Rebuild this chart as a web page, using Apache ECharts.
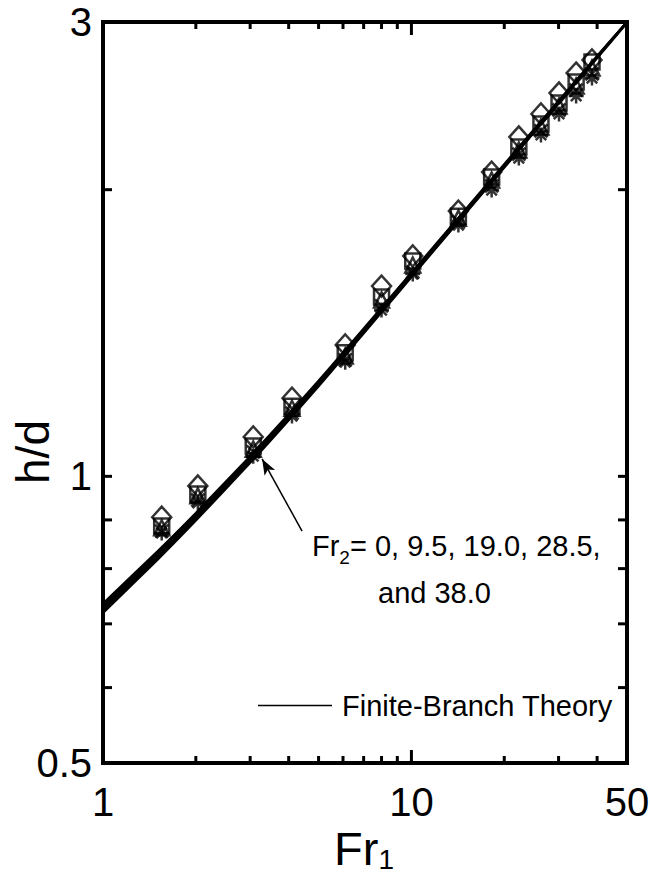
<!DOCTYPE html>
<html><head><meta charset="utf-8">
<script src="https://cdn.jsdelivr.net/npm/echarts@6/dist/echarts.min.js"></script>
<style>html,body{margin:0;padding:0;background:#fff}#c{width:650px;height:877px}</style>
</head><body><div id="c"></div>
<script>
const FONT = '"Liberation Sans", Arial, Helvetica, sans-serif';

// axes
const xRange = [1, 50];
const yRange = [0.5, 3];
const xTickLabels = [1, 10, 50];
const yTickLabels = [0.5, 1, 3];
const xMajorTicks = [10];
const xMinorTicks = [2, 3, 4, 5, 6, 7, 8, 9, 20, 30, 40];
const yTicks = [0.6, 0.7, 0.8, 0.9, 1, 2];

// finite-branch theory curves (Fr2 = 0, 9.5, 19.0, 28.5, 38.0)
const theoryFr1 = [1, 1.5, 2, 3, 4, 5, 6, 8, 10, 15, 20, 30, 40, 50];
const theoryA = [0.7190, 0.8172, 0.8988, 1.0333, 1.1456, 1.2438, 1.3327, 1.4870, 1.6194, 1.8902, 2.1098, 2.4636, 2.7494, 2.994];
const theoryB = [0.7230, 0.8214, 0.9029, 1.0374, 1.1497, 1.2478, 1.3367, 1.4911, 1.6234, 1.8944, 2.1141, 2.4673, 2.7529, 2.997];
const theoryC = [0.7270, 0.8255, 0.9070, 1.0416, 1.1537, 1.2519, 1.3407, 1.4952, 1.6275, 1.8987, 2.1183, 2.4710, 2.7563, 3.000];
const theoryD = [0.7310, 0.8296, 0.9111, 1.0458, 1.1577, 1.2560, 1.3447, 1.4993, 1.6316, 1.9030, 2.1225, 2.4747, 2.7597, 3.000];
const theoryE = [0.7350, 0.8338, 0.9152, 1.0499, 1.1618, 1.2600, 1.3487, 1.5034, 1.6356, 1.9072, 2.1268, 2.4784, 2.7632, 3.000];

// experimental points
const expFr1 = [1.55, 2.03, 3.07, 4.1, 6.1, 8.0, 10.1, 14.2, 18.2, 22.3, 26.3, 30.1, 34.2, 38.5];
const expDiamond  = [0.906, 0.977, 1.100, 1.208, 1.374, 1.584, 1.704, 1.899, 2.087, 2.272, 2.402, 2.527, 2.652, 2.737];
const expSquare   = [0.887, 0.958, 1.076, 1.185, 1.348, 1.543, 1.683, 1.876, 2.062, 2.217, 2.344, 2.467, 2.595, 2.724];
const expTriangle = [0.883, 0.954, 1.068, 1.179, 1.338, 1.532, 1.667, 1.867, 2.047, 2.201, 2.327, 2.449, 2.570, 2.684];
const expCross    = [0.876, 0.944, 1.061, 1.165, 1.325, 1.510, 1.639, 1.849, 2.018, 2.180, 2.305, 2.425, 2.545, 2.646];
const expStar     = [0.872, 0.938, 1.050, 1.157, 1.318, 1.495, 1.631, 1.836, 1.998, 2.159, 2.283, 2.402, 2.509, 2.620];

// annotation arrow (data coordinates)
const arrowFrom = [4.42, 0.876];
const arrowTo = [3.28, 1.043];

const zip = (xs, ys) => xs.map((x, i) => [x, ys[i]]);

function theorySeries(ys) {
  return {
    name: 'Finite-Branch Theory', type: 'line', data: zip(theoryFr1, ys),
    symbol: 'none', smooth: 0.2, z: 4,
    lineStyle: { color: '#000', width: 2.4 }, itemStyle: { color: '#000' }
  };
}
function pointSeries(name, ys, symbol, size) {
  return {
    name, type: 'scatter', data: zip(expFr1, ys), symbol, symbolSize: size, z: 3,
    itemStyle: { color: 'rgba(255,255,255,0)', borderColor: '#000', borderWidth: 2.5 }
  };
}
const xTickDraw = len => (params, api) => {
  const v = api.value(0);
  const b = api.coord([v, yRange[0]]), t = api.coord([v, yRange[1]]);
  return { type: 'group', children: [
    { type: 'line', shape: { x1: b[0], y1: b[1], x2: b[0], y2: b[1] - len }, style: { stroke: '#000', lineWidth: 3 } },
    { type: 'line', shape: { x1: t[0], y1: t[1], x2: t[0], y2: t[1] + len }, style: { stroke: '#000', lineWidth: 3 } }
  ] };
};
const yTickDraw = len => (params, api) => {
  const v = api.value(1);
  const l = api.coord([xRange[0], v]), r = api.coord([xRange[1], v]);
  return { type: 'group', children: [
    { type: 'line', shape: { x1: l[0], y1: l[1], x2: l[0] + len, y2: l[1] }, style: { stroke: '#000', lineWidth: 3 } },
    { type: 'line', shape: { x1: r[0], y1: r[1], x2: r[0] - len, y2: r[1] }, style: { stroke: '#000', lineWidth: 3 } }
  ] };
};
const xLabelDraw = (params, api) => {
  const v = api.value(0); const p = api.coord([v, yRange[0]]);
  return { type: 'text', x: p[0], y: p[1] + 19, style: { text: String(v), fill: '#000', fontSize: 40, fontFamily: FONT, align: 'center', verticalAlign: 'top' } };
};
const yLabelDraw = (params, api) => {
  const v = api.value(1); const p = api.coord([xRange[0], v]);
  return { type: 'text', x: p[0] - 11, y: p[1], style: { text: String(v), fill: '#000', fontSize: 40, fontFamily: FONT, align: 'right', verticalAlign: 'middle' } };
};
function customSeries(data, draw) {
  return { type: 'custom', coordinateSystem: 'cartesian2d', silent: true, z: 6, data, renderItem: draw };
}

const chart = echarts.init(document.getElementById('c'), null, { renderer: 'svg' });
const theory = [theoryA, theoryB, theoryC, theoryD, theoryE].map(theorySeries);
theory[0].markLine = {
  silent: true, symbol: ['none', 'arrow'], symbolSize: [9, 16], animation: false,
  lineStyle: { color: '#000', width: 1.5, type: 'solid' }, label: { show: false },
  data: [[{ coord: arrowFrom }, { coord: arrowTo }]]
};

chart.setOption({
  animation: false,
  backgroundColor: '#fff',
  grid: { left: 103, right: 23, top: 22, bottom: 114, show: true, borderColor: '#000', borderWidth: 4, backgroundColor: 'rgba(0,0,0,0)' },
  xAxis: { type: 'log', logBase: 10, min: xRange[0], max: xRange[1],
    axisLine: { show: false }, axisTick: { show: false }, axisLabel: { show: false }, splitLine: { show: false } },
  yAxis: { type: 'log', logBase: 10, min: yRange[0], max: yRange[1],
    axisLine: { show: false }, axisTick: { show: false }, axisLabel: { show: false }, splitLine: { show: false } },
  legend: {
    data: ['Finite-Branch Theory'], left: 258, top: 691, padding: 0, selectedMode: false,
    icon: 'rect', itemWidth: 74, itemHeight: 1.5,
    itemStyle: { color: '#000' },
    textStyle: { fontSize: 29, fontFamily: FONT, color: '#000', padding: [0, 0, 0, 5] }
  },
  graphic: [
    { type: 'text', x: 33, y: 452, rotation: Math.PI / 2,
      style: { text: 'h/d', fontSize: 46, fontFamily: FONT, fill: '#000', align: 'center', verticalAlign: 'middle' } },
    { type: 'text', x: 364, y: 825,
      style: { text: '{a|Fr}{s|1}', align: 'center', verticalAlign: 'top', fill: '#000',
        rich: { a: { fontSize: 47, lineHeight: 40, fontFamily: FONT, verticalAlign: 'top' },
                s: { fontSize: 28, lineHeight: 26, fontFamily: FONT, verticalAlign: 'top', padding: [20, 0, 0, 0] } } } },
    { type: 'text', x: 312, y: 531,
      style: { text: '{a|Fr}{s|2}{a|= 0, 9.5, 19.0, 28.5,}', align: 'left', verticalAlign: 'top', fill: '#000',
        rich: { a: { fontSize: 29, lineHeight: 29, fontFamily: FONT, verticalAlign: 'top' },
                s: { fontSize: 19, lineHeight: 19, fontFamily: FONT, verticalAlign: 'top', padding: [17, 0, 0, 0] } } } },
    { type: 'text', x: 378, y: 593,
      style: { text: 'and 38.0', fontSize: 29, fontFamily: FONT, fill: '#000', align: 'left', verticalAlign: 'middle' } }
  ],
  series: [
    pointSeries('Fr2 = 0', expDiamond, 'diamond', [19, 21]),
    pointSeries('Fr2 = 9.5', expSquare, 'rect', 15),
    pointSeries('Fr2 = 19.0', expTriangle, 'triangle', 15),
    pointSeries('Fr2 = 28.5', expCross, 'path://M0,0L10,10M0,10L10,0', 13),
    pointSeries('Fr2 = 38.0', expStar, 'path://M0,5L10,5M5,0L5,10M1.5,1.5L8.5,8.5M1.5,8.5L8.5,1.5', 15),
    ...theory,
    customSeries(xMinorTicks.map(v => [v, yRange[0]]), xTickDraw(7)),
    customSeries(xMajorTicks.map(v => [v, yRange[0]]), xTickDraw(13)),
    customSeries(yTicks.map(v => [xRange[0], v]), yTickDraw(9)),
    customSeries(xTickLabels.map(v => [v, yRange[0]]), xLabelDraw),
    customSeries(yTickLabels.map(v => [xRange[0], v]), yLabelDraw)
  ]
});
</script></body></html>
